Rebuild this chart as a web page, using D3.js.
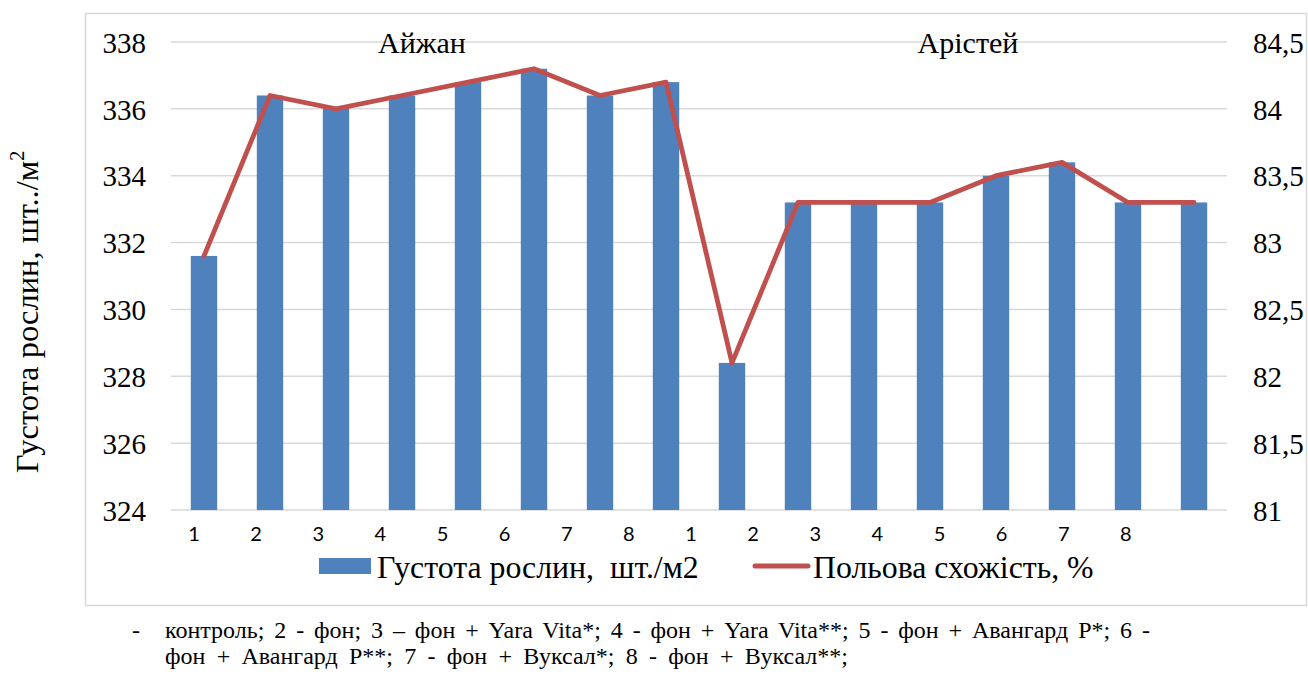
<!DOCTYPE html>
<html>
<head>
<meta charset="utf-8">
<script src="https://cdn.jsdelivr.net/npm/d3@7"></script>
<style>
  html, body { margin: 0; padding: 0; background: #fff; }
  svg { display: block; }
</style>
</head>
<body>
<svg id="chart" width="1308" height="677"></svg>
<script>
// ---- data ----
const categories = ["1","2","3","4","5","6","7","8","1","2","3","4","5","6","7","8"];
const groups = ["Айжан", "Арістей"];
const density = [331.6, 336.4, 336.0, 336.4, 336.8, 337.2, 336.4, 336.8,
                 328.4, 333.2, 333.2, 333.2, 334.0, 334.4, 333.2, 333.2];
const emergence = [82.9, 84.1, 84.0, 84.1, 84.2, 84.3, 84.1, 84.2,
                   82.1, 83.3, 83.3, 83.3, 83.5, 83.6, 83.3, 83.3];
const leftTicks = [324, 326, 328, 330, 332, 334, 336, 338];
const rightTicks = [81, 81.5, 82, 82.5, 83, 83.5, 84, 84.5];
const seriesNames = ["Густота рослин,  шт./м2", "Польова схожість, %"];
const yTitle = "Густота рослин, шт../м";
const footLines = [
  "контроль; 2 - фон; 3 – фон + Yara Vita*; 4 - фон + Yara Vita**; 5 - фон + Авангард Р*; 6 -",
  "фон + Авангард Р**; 7 - фон + Вуксал*; 8 - фон + Вуксал**;"
];

// ---- layout ----
const SERIF = "Liberation Serif";
const SANS = "Lato";
const blue = "#4f81bd", red = "#c0504d", grid = "#d9d9d9";
const plot = { left: 171, right: 1227, top: 42, bottom: 510 };

const svg = d3.select("#chart");
svg.append("rect").attr("width", 1308).attr("height", 677).attr("fill", "#fff");

// chart border
svg.append("rect").attr("x", 85.5).attr("y", 13.5).attr("width", 1221).attr("height", 592)
  .attr("fill", "none").attr("stroke", grid).attr("stroke-width", 1.5);

const idx = d3.range(categories.length);
const x = d3.scaleBand().domain(idx).range([plot.left, plot.right])
  .paddingInner(0.6).paddingOuter(0.3);
const yL = d3.scaleLinear().domain([324, 338]).range([plot.bottom, plot.top]);
const yR = d3.scaleLinear().domain([81, 84.5]).range([plot.bottom, plot.top]);

// gridlines
svg.append("g").selectAll("line").data(leftTicks).join("line")
  .attr("x1", plot.left).attr("x2", plot.right)
  .attr("y1", d => yL(d)).attr("y2", d => yL(d))
  .attr("stroke", grid).attr("stroke-width", 1.5);

// left axis labels
const axL = svg.append("g").attr("transform", `translate(${plot.left - 25},0)`)
  .call(d3.axisLeft(yL).tickValues(leftTicks).tickSize(0).tickPadding(0).tickFormat(d3.format("d")));
axL.select(".domain").remove();
axL.selectAll("text").style("font-family", SERIF).style("font-size", "29px").attr("fill", "#000")
  .attr("dy", "0.35em");

// right axis labels
const fmtR = d => String(d).replace(".", ",");
const axR = svg.append("g").attr("transform", `translate(${plot.right + 26},0)`)
  .call(d3.axisRight(yR).tickValues(rightTicks).tickSize(0).tickPadding(0).tickFormat(fmtR));
axR.select(".domain").remove();
axR.selectAll("text").style("font-family", SERIF).style("font-size", "29px").attr("fill", "#000")
  .attr("dy", "0.35em");

// bars
svg.append("g").selectAll("rect").data(density).join("rect")
  .attr("x", (d, i) => x(i)).attr("width", x.bandwidth())
  .attr("y", d => yL(d)).attr("height", d => yL(324) - yL(d))
  .attr("fill", blue);

// line
const line = d3.line().x((d, i) => x(i) + x.bandwidth() / 2).y(d => yR(d));
svg.append("path").datum(emergence).attr("d", line)
  .attr("fill", "none").attr("stroke", red).attr("stroke-width", 4.8)
  .attr("stroke-linejoin", "round").attr("stroke-linecap", "round");

// x category labels (placed in 17 evenly spaced slots as in the original)
const xl = d3.scaleBand().domain(d3.range(categories.length + 1)).range([plot.left, plot.right]);
svg.append("g").selectAll("text").data(categories).join("text")
  .style("font-family", SANS).style("font-size", "20px")
  .attr("x", (d, i) => xl(i) + xl.bandwidth() / 2 - 8)
  .attr("y", 541)
  .attr("text-anchor", "middle")
  .attr("fill", "#000").text(d => d);

// group titles
const groupOffsets = [-13, 5];
svg.append("g").selectAll("text").data(groups).join("text")
  .style("font-family", SERIF).style("font-size", "30px")
  .attr("x", (d, g) => (x(g * 8) + x(g * 8 + 7) + x.bandwidth()) / 2 + groupOffsets[g])
  .attr("y", 53)
  .attr("text-anchor", "middle")
  .attr("fill", "#000").text(d => d);

// y-axis title
const yt = svg.append("text")
  .style("font-family", SERIF).style("font-size", "32.5px")
  .attr("transform", "translate(38,312) rotate(-90)")
  .attr("text-anchor", "middle").attr("fill", "#000");
yt.append("tspan").text(yTitle);
yt.append("tspan").style("font-size", "20px").attr("dy", -14).text("2");

// legend
const lg = svg.append("g");
lg.append("rect").attr("x", 319).attr("y", 558).attr("width", 52).attr("height", 16).attr("fill", blue);
lg.append("text").style("font-family", SERIF).style("font-size", "31.8px").style("white-space", "pre")
  .attr("x", 377).attr("y", 578).attr("fill", "#000").text(seriesNames[0]);
lg.append("line").attr("x1", 755).attr("x2", 808).attr("y1", 566).attr("y2", 566)
  .attr("stroke", red).attr("stroke-width", 5).attr("stroke-linecap", "round");
lg.append("text").style("font-family", SERIF).style("font-size", "31.8px")
  .attr("x", 813).attr("y", 578).attr("fill", "#000").text(seriesNames[1]);

// footnote (justified lines, as in the source document: widen word gaps to fit)
const footWidths = [985, 683];
const ft = svg.append("g").attr("fill", "#000");
ft.append("text").style("font-family", SERIF).style("font-size", "24px")
  .attr("x", 132).attr("y", 638).text("-");
ft.selectAll("text.l").data(footLines).join("text").attr("class", "l")
  .style("font-family", SERIF).style("font-size", "24px")
  .attr("x", 165).attr("y", (d, i) => 638 + i * 26)
  .text(d => d)
  .each(function(d, i) {
    const natural = this.getComputedTextLength();
    const gaps = (d.match(/ /g) || []).length;
    const extra = Math.max(0, (footWidths[i] - natural) / gaps);
    d3.select(this).style("word-spacing", extra + "px");
  });
</script>
</body>
</html>
